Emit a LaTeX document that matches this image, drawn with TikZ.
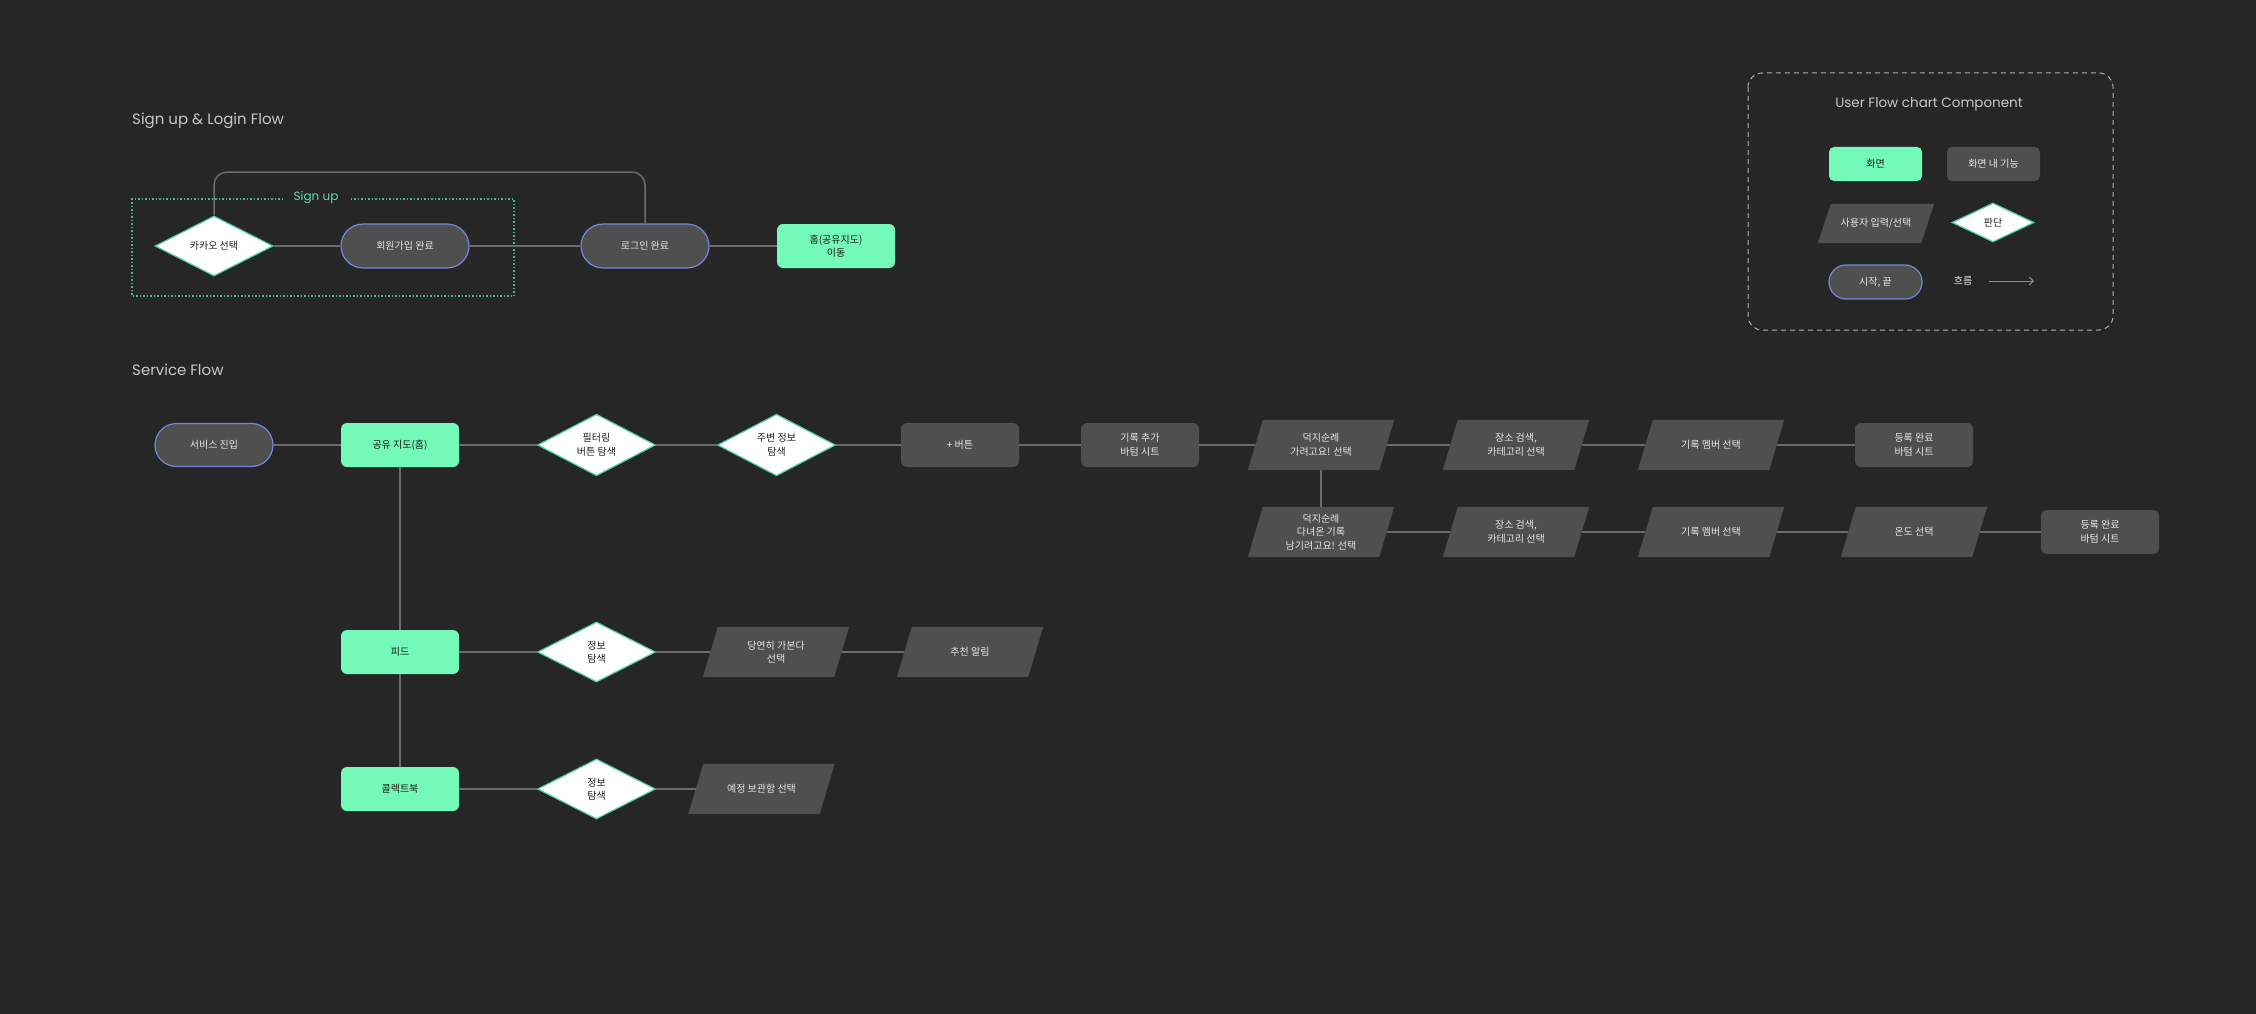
\documentclass[tikz,border=0pt]{standalone}
\usepackage{fontspec}
\setmainfont{Noto Sans CJK KR}
\newfontfamily\popfont{Poppins}
\usetikzlibrary{shapes.geometric,arrows.meta}
\pgfdeclarelayer{canvaslayer}
\pgfdeclarelayer{shapelayer}
\pgfsetlayers{canvaslayer,shapelayer,main}
\definecolor{bgcol}{HTML}{262626}
\definecolor{nodegray}{HTML}{4F4F4F}
\definecolor{mint}{HTML}{73F9B8}
\definecolor{stadiumborder}{HTML}{7486DC}
\definecolor{diamondborder}{HTML}{4ED49A}
\definecolor{connector}{HTML}{6C6C6C}
\definecolor{titlegray}{HTML}{C8C8C8}
\definecolor{nodetext}{HTML}{E6E6E6}
\definecolor{dotgreen}{HTML}{4DB888}
\definecolor{labelgreen}{HTML}{62DDA4}
\definecolor{legendline}{HTML}{B0B0B0}
\definecolor{darktext}{HTML}{1C1C1C}
\tikzset{
  base/.style={font=\fontsize{10}{13.5}\selectfont, align=center, inner sep=0pt},
  screen/.style={base, rectangle, fill=mint, text=darktext, rounded corners=6pt, minimum width=118pt, minimum height=44pt},
  feature/.style={base, rectangle, fill=nodegray, text=nodetext, rounded corners=6pt, minimum width=118pt, minimum height=44pt},
  terminal/.style={base, rectangle, fill=nodegray, draw=stadiumborder, line width=1.2pt, text=nodetext, rounded corners=21.5pt, minimum width=118pt, minimum height=43pt},
  decision/.style={base, diamond, fill=white, draw=diamondborder, line width=1.2pt, text=darktext, minimum width=118pt, minimum height=60pt},
  inputbox/.style={base, rectangle, text=nodetext, minimum width=131pt, minimum height=50pt},
  conn/.style={draw=connector, line width=1.5pt},
  flowtitle/.style={font=\popfont\fontsize{15}{17}\selectfont, text=titlegray, anchor=west, inner sep=0pt},
}
\begin{document}
\begin{tikzpicture}[x=1pt,y=-1pt]
\begin{pgfonlayer}{canvaslayer}
\fill[bgcol] (0,0) rectangle (2256,1014);
\end{pgfonlayer}
\useasboundingbox (0,0) rectangle (2256,1014);

% ---------- Sign up & Login flow ----------
\node[flowtitle] (t1) at (132,121) {Sign up \& Login Flow};
\draw[dotgreen, line width=1.3pt, dash pattern=on 1.5pt off 2pt] (283,199) -- (132,199) -- (132,296) -- (514,296) -- (514,199) -- (349,199);
\node[font=\popfont\fontsize{12}{14}\selectfont, text=labelgreen, inner sep=0pt] (signuplbl) at (316,198) {Sign up};

\node[decision] (kakao) at (214,246) {카카오 선택};
\node[terminal, minimum width=128pt, minimum height=44pt, rounded corners=22pt] (joined) at (405,246) {회원가입 완료};
\node[terminal, minimum width=128pt, minimum height=44pt, rounded corners=22pt] (loggedin) at (645,246) {로그인 완료};
\node[screen] (homego) at (836,246) {홈(공유지도)\\이동};
\coordinate (arctop) at (645,172);
\draw[conn, rounded corners=13pt] (kakao.north) |- (arctop) -- (loggedin.north);
\foreach \a/\b in {kakao/joined, joined/loggedin, loggedin/homego}
  \draw[conn] (\a) -- (\b);

% ---------- Service flow ----------
\node[flowtitle] (t2) at (132,370) {Service Flow};

\node[terminal] (entry) at (214,445) {서비스 진입};
\node[screen] (map) at (400,445) {공유 지도(홈)};
\node[decision] (filter) at (596.5,445) {필터링\\버튼 탐색};
\node[decision] (nearby) at (776.5,445) {주변 정보\\탐색};
\node[feature] (plus) at (960,445) {+ 버튼};
\node[feature] (addrec) at (1140,445) {기록 추가\\바텀 시트};
\node[inputbox] (goto) at (1321,445) {덕지순례\\가려고요! 선택};
\node[inputbox] (place1) at (1516,445) {장소 검색,\\카테고리 선택};
\node[inputbox] (member1) at (1711,445) {기록 멤버 선택};
\node[feature] (done1) at (1914,445) {등록 완료\\바텀 시트};

\node[inputbox] (visited) at (1321,532) {덕지순례\\다녀온 기록\\남기려고요! 선택};
\node[inputbox] (place2) at (1516,532) {장소 검색,\\카테고리 선택};
\node[inputbox] (member2) at (1711,532) {기록 멤버 선택};
\node[inputbox] (temp) at (1914,532) {온도 선택};
\node[feature] (done2) at (2100,532) {등록 완료\\바텀 시트};

\node[screen] (feed) at (400,652) {피드};
\node[decision] (info1) at (596.5,652) {정보\\탐색};
\node[inputbox] (sure) at (776,652) {당연히 가본다\\선택};
\node[inputbox] (recommend) at (970,652) {추천 알림};

\node[screen] (collect) at (400,789) {콜렉트북};
\node[decision] (info2) at (596.5,789) {정보\\탐색};
\node[inputbox] (planned) at (761.5,789) {예정 보관함 선택};

\foreach \a/\b in {entry/map, map/filter, filter/nearby, nearby/plus, plus/addrec, addrec/goto, goto/place1, place1/member1, member1/done1,
  goto/visited, visited/place2, place2/member2, member2/temp, temp/done2,
  map/feed, feed/collect, feed/info1, info1/sure, sure/recommend, collect/info2, info2/planned}
  \draw[conn] (\a) -- (\b);

% ---------- Legend ----------
\draw[legendline, line width=1pt, dash pattern=on 5pt off 4pt, rounded corners=14pt] (1748,73) rectangle (2113,330);
\node[font=\popfont\fontsize{13.5}{15}\selectfont, text=titlegray, inner sep=0pt] (legtitle) at (1929,104) {User Flow chart Component};
\node[screen, minimum width=93pt, minimum height=34pt, rounded corners=5pt] (lg1) at (1875.5,164) {화면};
\node[feature, minimum width=93pt, minimum height=34pt, rounded corners=5pt] (lg2) at (1993.5,164) {화면 내 기능};
\node[inputbox, minimum width=103pt, minimum height=39pt] (lg3) at (1876,223.5) {사용자 입력/선택};
\node[decision, minimum width=82pt, minimum height=39pt] (lg4) at (1993,222.5) {판단};
\node[terminal, minimum width=93pt, minimum height=34pt, rounded corners=17pt] (lg5) at (1875.5,282) {시작, 끝};
\node[base, text=nodetext] (lg6) at (1963,281) {흐름};
\coordinate (arrowstart) at (1989,281);
\coordinate (arrowend) at (2034,281);
\draw[draw=legendline!80!black, line width=1pt, -{Straight Barb[length=4pt,width=8pt]}] (arrowstart) -- (arrowend);

% ---------- parallelogram bodies of the input boxes ----------
\begin{pgfonlayer}{shapelayer}
\foreach \n/\s in {goto/7.5, place1/7.5, member1/7.5, visited/7.5, place2/7.5, member2/7.5, temp/7.5, sure/7.5, recommend/7.5, planned/7.5, lg3/6.5}
  \fill[nodegray] ([xshift=-\s pt]\n.south west) -- ([xshift=-\s pt]\n.south east) -- ([xshift=\s pt]\n.north east) -- ([xshift=\s pt]\n.north west) -- cycle;
\end{pgfonlayer}
\end{tikzpicture}
\end{document}
